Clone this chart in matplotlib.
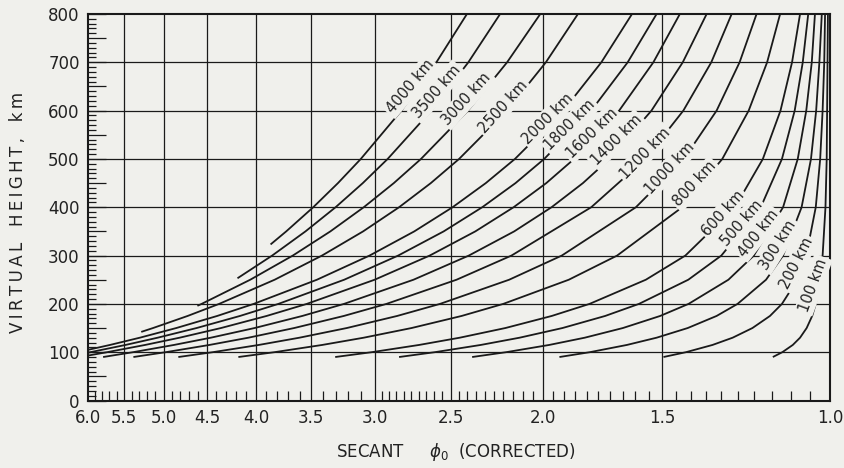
import numpy as np
import matplotlib
matplotlib.use('Agg')
import matplotlib.pyplot as plt
from matplotlib.ticker import FixedLocator, FixedFormatter, NullFormatter, MultipleLocator, FuncFormatter

# ---------------- data ----------------
# virtual height (km) grid used for the short-distance curves
h_short = [90, 100, 115, 130, 150, 175, 200, 250, 300, 400, 500, 600, 700, 800]

sec_100 = [1.148, 1.122, 1.094, 1.075, 1.058, 1.044, 1.035, 1.024, 1.018, 1.011, 1.008, 1.007, 1.006, 1.005]
sec_200 = [1.495, 1.416, 1.328, 1.265, 1.206, 1.156, 1.123, 1.082, 1.059, 1.035, 1.024, 1.018, 1.014, 1.012]
sec_300 = [1.922, 1.786, 1.633, 1.520, 1.410, 1.315, 1.250, 1.167, 1.120, 1.071, 1.047, 1.034, 1.026, 1.020]
sec_400 = [2.373, 2.186, 1.970, 1.808, 1.649, 1.507, 1.407, 1.278, 1.202, 1.120, 1.081, 1.059, 1.045, 1.037]
sec_500 = [2.831, 2.597, 2.324, 2.116, 1.908, 1.721, 1.586, 1.408, 1.300, 1.182, 1.123, 1.089, 1.068, 1.054]
sec_600 = [3.303, 3.024, 2.697, 2.445, 2.190, 1.958, 1.787, 1.560, 1.418, 1.258, 1.176, 1.127, 1.096, 1.075]
sec_800 = [4.173, 3.825, 3.408, 3.083, 2.747, 2.434, 2.201, 1.879, 1.672, 1.429, 1.297, 1.217, 1.164, 1.128]
sec_1000 = [4.824, 4.439, 3.972, 3.601, 3.212, 2.844, 2.564, 2.170, 1.911, 1.598, 1.423, 1.315, 1.244, 1.194]
sec_1200 = [5.377, 4.973, 4.475, 4.073, 3.647, 3.235, 2.918, 2.464, 2.158, 1.780, 1.562, 1.425, 1.332, 1.268]

h_1400 = [90, 100, 115, 130, 150, 175, 200, 250, 300, 350, 400, 450, 500, 600, 700, 800]
sec_1400 = [5.785, 5.381, 4.875, 4.460, 4.013, 3.576, 3.233, 2.734, 2.392, 2.144, 1.959, 1.816, 1.703, 1.539, 1.427, 1.347]
h_1600 = [93, 100, 115, 130, 150, 175, 200, 250, 300, 350, 400, 450, 500, 600, 700, 800]
sec_1600 = [6.000, 5.730, 5.227, 4.809, 4.352, 3.898, 3.537, 3.003, 2.629, 2.355, 2.147, 1.984, 1.855, 1.664, 1.532, 1.437]
h_1800 = [99, 115, 130, 150, 175, 200, 250, 300, 350, 400, 450, 500, 600, 700, 800]
sec_1800 = [6.000, 5.480, 5.071, 4.616, 4.157, 3.788, 3.232, 2.837, 2.542, 2.316, 2.137, 1.994, 1.780, 1.630, 1.520]
h_2000 = [105, 115, 130, 150, 175, 200, 250, 300, 350, 400, 450, 500, 600, 700, 800]
sec_2000 = [5.995, 5.690, 5.294, 4.848, 4.392, 4.021, 3.452, 3.040, 2.729, 2.488, 2.296, 2.140, 1.904, 1.737, 1.613]
h_2500 = [142, 150, 175, 200, 250, 300, 350, 400, 450, 500, 600, 700, 800]
sec_2500 = [5.276, 5.128, 4.717, 4.371, 3.823, 3.410, 3.088, 2.831, 2.622, 2.449, 2.181, 1.986, 1.838]
h_3000 = [196, 200, 250, 300, 350, 400, 450, 500, 600, 700, 800]
sec_3000 = [4.607, 4.560, 4.055, 3.659, 3.342, 3.083, 2.867, 2.685, 2.397, 2.181, 2.013]
h_3500 = [253, 300, 350, 400, 450, 500, 600, 700, 800]
sec_3500 = [4.182, 3.846, 3.549, 3.300, 3.090, 2.910, 2.619, 2.395, 2.218]
h_4000 = [323, 350, 400, 450, 500, 600, 700, 800]
sec_4000 = [3.861, 3.718, 3.483, 3.281, 3.105, 2.815, 2.587, 2.403]

curves = [
    (sec_100, h_short), (sec_200, h_short), (sec_300, h_short), (sec_400, h_short),
    (sec_500, h_short), (sec_600, h_short), (sec_800, h_short), (sec_1000, h_short),
    (sec_1200, h_short), (sec_1400, h_1400), (sec_1600, h_1600), (sec_1800, h_1800),
    (sec_2000, h_2000), (sec_2500, h_2500), (sec_3000, h_3000), (sec_3500, h_3500),
    (sec_4000, h_4000)]

x_ticks = [6.0, 5.5, 5.0, 4.5, 4.0, 3.5, 3.0, 2.5, 2.0, 1.5, 1.0]
x_tick_labels = ['6.0', '5.5', '5.0', '4.5', '4.0', '3.5', '3.0', '2.5', '2.0', '1.5', '1.0']

curve_labels = ['4000 km', '3500 km', '3000 km', '2500 km', '2000 km', '1800 km', '1600 km', '1400 km',
                '1200 km', '1000 km', '800 km', '600 km', '500 km', '400 km', '300 km', '200 km', '100 km']
# label placement (secant, height, rotation in degrees)
lab_x = [2.757, 2.585, 2.404, 2.201, 1.975, 1.874, 1.778, 1.674, 1.563, 1.472, 1.385, 1.294, 1.238, 1.189, 1.133, 1.084, 1.041]
lab_y = [650, 639, 625, 608, 584, 570, 553, 539, 512, 481, 448, 388, 367, 346, 322, 284, 239]
lab_r = [50, 49, 48, 48, 45, 45, 44, 45, 46, 47, 47, 48, 49, 52, 58, 63, 70]

# ---------------- drawing ----------------
BG = '#f0f0ec'
LC = '#1a1a1a'
TC = '#222222'
fig = plt.figure(figsize=(8.44, 4.68), dpi=100, facecolor=BG)
ax = fig.add_axes([88/844, 67.5/468, 742/844, 386.5/468])
ax.set_facecolor(BG)
ax.set_xscale('log')

for s, h in curves:
    ax.plot(s, h, color=LC, lw=1.3, zorder=3, solid_capstyle='butt')

ax.set_xlim(6, 1)
ax.set_ylim(0, 800)
ax.xaxis.set_major_locator(FixedLocator(x_ticks))
ax.xaxis.set_major_formatter(FixedFormatter(x_tick_labels))
minor_x = [round(v, 2) for v in np.arange(3.0, 6.0, 0.1)] + [round(v, 2) for v in np.arange(1.05, 3.0, 0.05)]
minor_x = [v for v in minor_x if all(abs(v - m) > 1e-6 for m in x_ticks)]
ax.xaxis.set_minor_locator(FixedLocator(minor_x))
ax.xaxis.set_minor_formatter(NullFormatter())
ax.tick_params(axis='x', which='major', length=0, pad=6, labelsize=12, labelcolor=TC)
ax.tick_params(axis='x', which='minor', direction='in', length=7, width=0.9, color=LC)
ax.yaxis.set_major_locator(MultipleLocator(50))
ax.yaxis.set_major_formatter(FuncFormatter(lambda v, p: f'{int(v)}' if v % 100 == 0 else ''))
ax.yaxis.set_minor_locator(MultipleLocator(10))
ax.tick_params(axis='y', which='major', direction='in', length=13, width=0.9, pad=6,
               labelsize=12, labelcolor=TC, color=LC)
ax.tick_params(axis='y', which='minor', direction='in', length=6, width=0.9, color=LC)
for v in x_ticks[1:-1]:
    ax.axvline(v, color=LC, lw=0.9, zorder=1)
for v in range(100, 800, 100):
    ax.axhline(v, color=LC, lw=0.9, zorder=1)
for sp in ax.spines.values():
    sp.set_linewidth(1.5)
    sp.set_color(LC)

for t, x, y, r in zip(curve_labels, lab_x, lab_y, lab_r):
    ax.text(x, y, t, rotation=r, rotation_mode='anchor', ha='center', va='center', fontsize=10.5,
            color=TC, zorder=5, bbox=dict(boxstyle='square,pad=0.15', fc=BG, ec='none'))

TS = '\u2009'
def spaced(w):
    return TS.join(w)

ylab = '   '.join(spaced(w) for w in ['VIRTUAL', 'HEIGHT,', 'km'])
fig.text(18/844, 1 - 212/468, ylab, rotation=90, ha='center', va='center', fontsize=12, color=TC)
xlab = 'SECANT     ' + r'$\phi_0$' + '  (CORRECTED)'
fig.text(456/844, 1 - 452/468, xlab, ha='center', va='center', fontsize=12, color=TC)
fig.savefig('out.png', dpi=100, facecolor=BG)
